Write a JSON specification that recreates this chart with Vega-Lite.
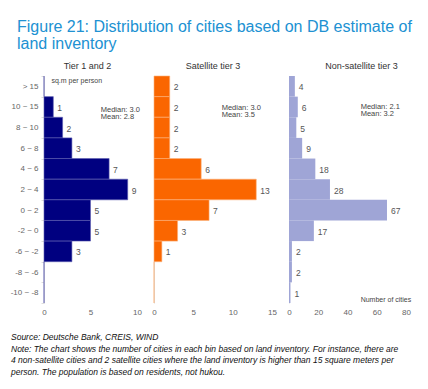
{
  "$schema": "https://vega.github.io/schema/vega-lite/v6.json",
  "background": "white",
  "padding": {"left": 5, "top": 18, "right": 5, "bottom": 5},
  "config": {
    "font": "Liberation Sans",
    "view": {"stroke": null},
    "axis": {"labelFont": "Liberation Sans", "labelColor": "#666666", "labelFontSize": 8, "title": null},
    "title": {"font": "Liberation Sans"}
  },
  "datasets": {
    "cities": [
      {"panel": "Tier 1 and 2", "bin": "> 15", "n": 0},
      {"panel": "Tier 1 and 2", "bin": "10 ~ 15", "n": 1},
      {"panel": "Tier 1 and 2", "bin": "8 ~ 10", "n": 2},
      {"panel": "Tier 1 and 2", "bin": "6 ~ 8", "n": 3},
      {"panel": "Tier 1 and 2", "bin": "4 ~ 6", "n": 7},
      {"panel": "Tier 1 and 2", "bin": "2 ~ 4", "n": 9},
      {"panel": "Tier 1 and 2", "bin": "0 ~ 2", "n": 5},
      {"panel": "Tier 1 and 2", "bin": "-2 ~ 0", "n": 5},
      {"panel": "Tier 1 and 2", "bin": "-6 ~ -2", "n": 3},
      {"panel": "Tier 1 and 2", "bin": "-8 ~ -6", "n": 0},
      {"panel": "Tier 1 and 2", "bin": "-10 ~ -8", "n": 0},
      {"panel": "Satellite tier 3", "bin": "> 15", "n": 2},
      {"panel": "Satellite tier 3", "bin": "10 ~ 15", "n": 2},
      {"panel": "Satellite tier 3", "bin": "8 ~ 10", "n": 2},
      {"panel": "Satellite tier 3", "bin": "6 ~ 8", "n": 2},
      {"panel": "Satellite tier 3", "bin": "4 ~ 6", "n": 6},
      {"panel": "Satellite tier 3", "bin": "2 ~ 4", "n": 13},
      {"panel": "Satellite tier 3", "bin": "0 ~ 2", "n": 7},
      {"panel": "Satellite tier 3", "bin": "-2 ~ 0", "n": 3},
      {"panel": "Satellite tier 3", "bin": "-6 ~ -2", "n": 1},
      {"panel": "Satellite tier 3", "bin": "-8 ~ -6", "n": 0},
      {"panel": "Satellite tier 3", "bin": "-10 ~ -8", "n": 0},
      {"panel": "Non-satellite tier 3", "bin": "> 15", "n": 4},
      {"panel": "Non-satellite tier 3", "bin": "10 ~ 15", "n": 6},
      {"panel": "Non-satellite tier 3", "bin": "8 ~ 10", "n": 5},
      {"panel": "Non-satellite tier 3", "bin": "6 ~ 8", "n": 9},
      {"panel": "Non-satellite tier 3", "bin": "4 ~ 6", "n": 18},
      {"panel": "Non-satellite tier 3", "bin": "2 ~ 4", "n": 28},
      {"panel": "Non-satellite tier 3", "bin": "0 ~ 2", "n": 67},
      {"panel": "Non-satellite tier 3", "bin": "-2 ~ 0", "n": 17},
      {"panel": "Non-satellite tier 3", "bin": "-6 ~ -2", "n": 2},
      {"panel": "Non-satellite tier 3", "bin": "-8 ~ -6", "n": 2},
      {"panel": "Non-satellite tier 3", "bin": "-10 ~ -8", "n": 1}
    ]
  },
  "title": {
    "text": ["Figure 21: Distribution of cities based on DB estimate of", "land inventory"],
    "anchor": "start",
    "frame": "bounds",
    "fontSize": 16,
    "fontWeight": "normal",
    "color": "#2091d2",
    "lineHeight": 17.5,
    "offset": 9.5,
    "dx": 12
  },
  "vconcat": [
    {
      "title": {
        "text": [
          "Source: Deutsche Bank, CREIS, WIND",
          "Note: The chart shows the number of cities in each bin based on land inventory. For instance, there are",
          "4 non-satellite cities and 2 satellite cities where the land inventory is higher than 15 square meters per",
          "person. The population is based on residents, not hukou."
        ],
        "orient": "bottom",
        "anchor": "start",
        "frame": "bounds",
        "fontSize": 8.5,
        "fontStyle": "italic",
        "fontWeight": "normal",
        "color": "#111111",
        "lineHeight": 11.6,
        "offset": 17,
        "dx": 6
      },
      "spacing": 9,
      "hconcat": [
        {
          "width": 93,
          "height": 227,
          "title": {"text": "Tier 1 and 2", "fontSize": 9, "fontWeight": "normal", "color": "#333333", "offset": 1, "dx": -3},
          "layer": [
            {
              "data": {"name": "cities"},
              "transform": [{"filter": "datum.panel === 'Tier 1 and 2'"}],
              "mark": {"type": "bar", "color": "#000080", "stroke": "#5c5cb0", "strokeWidth": 0.6},
              "encoding": {
                "y": {"field": "bin", "type": "ordinal",
                  "scale": {"domain": ["> 15", "10 ~ 15", "8 ~ 10", "6 ~ 8", "4 ~ 6", "2 ~ 4", "0 ~ 2", "-2 ~ 0", "-6 ~ -2", "-8 ~ -6", "-10 ~ -8"], "paddingInner": 0, "paddingOuter": 0},
                  "axis": {"domainColor": "#dddddd", "tickColor": "#dddddd", "tickBand": "extent", "tickSize": 3, "labelPadding": 3, "minExtent": 39, "maxExtent": 39}},
                "x": {"field": "n", "type": "quantitative", "scale": {"domain": [0, 10], "nice": false},
                  "axis": {"tickCount": 2, "domain": false, "ticks": false, "grid": false, "labelPadding": 5, "labelOverlap": false, "labelFlush": false}}
              }
            },
            {
              "data": {"name": "cities"},
              "transform": [{"filter": "datum.panel === 'Tier 1 and 2' && datum.n > 0"}],
              "mark": {"type": "text", "align": "left", "dx": 4, "dy": 1, "fontSize": 8.5, "color": "#555555"},
              "encoding": {
                "y": {"field": "bin", "type": "ordinal"},
                "x": {"field": "n", "type": "quantitative"},
                "text": {"field": "n"}
              }
            },
            {
              "data": {"values": [{"label": "Median: 3.0 / Mean: 2.8"}]},
              "mark": {"type": "text", "align": "left", "baseline": "middle", "dy": 3, "fontSize": 7.5, "lineHeight": 7.5, "color": "#444444", "text": ["Median: 3.0", "Mean: 2.8"]},
              "encoding": {"x": {"datum": 6.1}, "y": {"datum": "10 ~ 15"}}
            },
            {
              "data": {"values": [{"label": "sq.m per person"}]},
              "mark": {"type": "text", "align": "left", "baseline": "middle", "dy": -5, "fontSize": 7, "color": "#444444", "text": "sq.m per person"},
              "encoding": {"x": {"datum": 0.8}, "y": {"datum": "> 15"}}
            }
          ]
        },
        {
          "width": 118,
          "height": 227,
          "title": {"text": "Satellite tier 3", "fontSize": 9, "fontWeight": "normal", "color": "#333333", "offset": 5},
          "layer": [
            {
              "data": {"name": "cities"},
              "transform": [{"filter": "datum.panel === 'Satellite tier 3'"}],
              "mark": {"type": "bar", "color": "#fa6600", "stroke": "#fbb27a", "strokeWidth": 0.6},
              "encoding": {
                "y": {"field": "bin", "type": "ordinal",
                  "scale": {"domain": ["> 15", "10 ~ 15", "8 ~ 10", "6 ~ 8", "4 ~ 6", "2 ~ 4", "0 ~ 2", "-2 ~ 0", "-6 ~ -2", "-8 ~ -6", "-10 ~ -8"], "paddingInner": 0, "paddingOuter": 0},
                  "axis": {"domainColor": "#dddddd", "ticks": false, "labels": false}},
                "x": {"field": "n", "type": "quantitative", "scale": {"domain": [0, 15], "nice": false},
                  "axis": {"tickCount": 3, "domain": false, "ticks": false, "grid": false, "labelPadding": 5, "labelOverlap": false, "labelFlush": false}}
              }
            },
            {
              "data": {"name": "cities"},
              "transform": [{"filter": "datum.panel === 'Satellite tier 3' && datum.n > 0"}],
              "mark": {"type": "text", "align": "left", "dx": 4, "dy": 1, "fontSize": 8.5, "color": "#555555"},
              "encoding": {
                "y": {"field": "bin", "type": "ordinal"},
                "x": {"field": "n", "type": "quantitative"},
                "text": {"field": "n"}
              }
            },
            {
              "data": {"values": [{"label": "Median: 3.0 / Mean: 3.5"}]},
              "mark": {"type": "text", "align": "left", "baseline": "middle", "dy": 1, "fontSize": 7.5, "lineHeight": 7.5, "color": "#444444", "text": ["Median: 3.0", "Mean: 3.5"]},
              "encoding": {"x": {"datum": 8.6}, "y": {"datum": "10 ~ 15"}}
            }
          ]
        },
        {
          "width": 117,
          "height": 227,
          "title": {"text": "Non-satellite tier 3", "fontSize": 9, "fontWeight": "normal", "color": "#333333", "offset": 5, "dx": 14},
          "layer": [
            {
              "data": {"name": "cities"},
              "transform": [{"filter": "datum.panel === 'Non-satellite tier 3'"}],
              "mark": {"type": "bar", "color": "#9fa5d6"},
              "encoding": {
                "y": {"field": "bin", "type": "ordinal",
                  "scale": {"domain": ["> 15", "10 ~ 15", "8 ~ 10", "6 ~ 8", "4 ~ 6", "2 ~ 4", "0 ~ 2", "-2 ~ 0", "-6 ~ -2", "-8 ~ -6", "-10 ~ -8"], "paddingInner": 0, "paddingOuter": 0},
                  "axis": {"domainColor": "#dddddd", "ticks": false, "labels": false}},
                "x": {"field": "n", "type": "quantitative", "scale": {"domain": [0, 80], "nice": false},
                  "axis": {"tickCount": 4, "domain": false, "ticks": false, "grid": false, "labelPadding": 5, "labelOverlap": false, "labelFlush": false}}
              }
            },
            {
              "data": {"name": "cities"},
              "transform": [{"filter": "datum.panel === 'Non-satellite tier 3' && datum.n > 0"}],
              "mark": {"type": "text", "align": "left", "dx": 4, "dy": 1, "fontSize": 8.5, "color": "#555555"},
              "encoding": {
                "y": {"field": "bin", "type": "ordinal"},
                "x": {"field": "n", "type": "quantitative"},
                "text": {"field": "n"}
              }
            },
            {
              "data": {"values": [{"label": "Median: 2.1 / Mean: 3.2"}]},
              "mark": {"type": "text", "align": "left", "baseline": "middle", "dy": 0, "fontSize": 7.5, "lineHeight": 7.5, "color": "#444444", "text": ["Median: 2.1", "Mean: 3.2"]},
              "encoding": {"x": {"datum": 49}, "y": {"datum": "10 ~ 15"}}
            },
            {
              "data": {"values": [{"label": "Number of cities"}]},
              "mark": {"type": "text", "align": "left", "baseline": "middle", "dy": 7, "fontSize": 7, "color": "#444444", "text": "Number of cities"},
              "encoding": {"x": {"datum": 49}, "y": {"datum": "-10 ~ -8"}}
            }
          ]
        }
      ]
    }
  ]
}
